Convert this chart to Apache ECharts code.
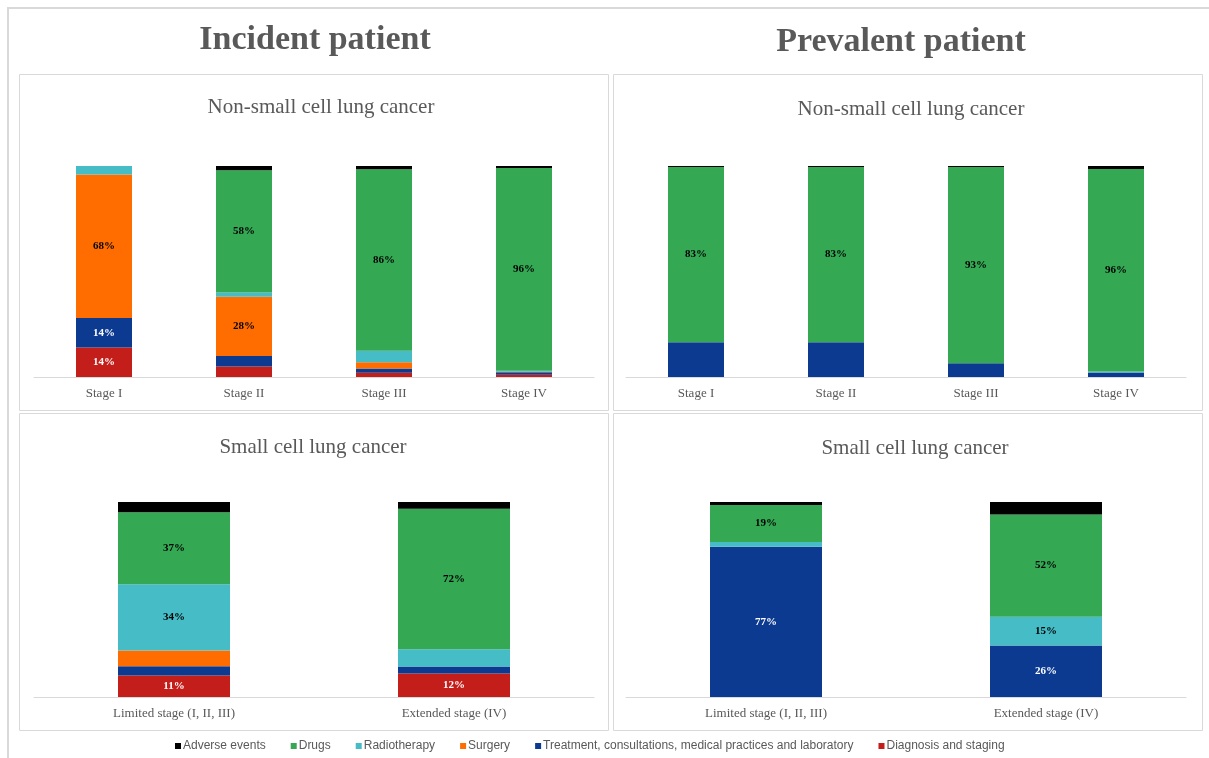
<!DOCTYPE html>
<html lang="en">
  <head>
    <meta charset="UTF-8" />
    <title>Incident vs prevalent patient - cost breakdown</title>
    <script src="https://cdn.jsdelivr.net/npm/echarts@6/dist/echarts.min.js"></script>
    <style>
      body {
        margin: 0;
        background: #fff;
      }
      #main {
        width: 1209px;
        height: 758px;
      }
    </style>
  </head>
  <body>
    <div id="main"></div>
    <script type="text/javascript">
      const chart = echarts.init(document.getElementById("main"))

      // categories
      const nsclcStages = ["Stage I", "Stage II", "Stage III", "Stage IV"]
      const sclcStages = ["Limited stage (I, II, III)", "Extended stage (IV)"]

      // series names, bottom of the stack first
      const seriesNames = [
        "Diagnosis and staging",
        "Treatment, consultations, medical practices and laboratory",
        "Surgery",
        "Radiotherapy",
        "Drugs",
        "Adverse events",
      ]
      const legendOrder = seriesNames.slice().reverse()
      const colors = ["#c41e1a", "#0c3a90", "#ff6d01", "#46bdc6", "#34a853", "#000000"]

      // incident patient, non-small cell (%)
      const incNsclcDiagnosis = [14, 5, 2, 1.1]
      const incNsclcTreatment = [14, 5, 2, 1.2]
      const incNsclcSurgery = [68, 28, 3, 0.2]
      const incNsclcRadio = [4, 2, 5.5, 0.5]
      const incNsclcDrugs = [0, 58, 86, 96]
      const incNsclcAdverse = [0, 2, 1.5, 1]

      // prevalent patient, non-small cell (%)
      const prevNsclcDiagnosis = [0, 0, 0, 0]
      const prevNsclcTreatment = [16.5, 16.5, 6.5, 2.1]
      const prevNsclcSurgery = [0, 0, 0, 0]
      const prevNsclcRadio = [0, 0, 0, 0.5]
      const prevNsclcDrugs = [83, 83, 93, 96]
      const prevNsclcAdverse = [0.5, 0.5, 0.5, 1.4]

      // incident patient, small cell (%)
      const incSclcDiagnosis = [11, 12]
      const incSclcTreatment = [4.8, 3.6]
      const incSclcSurgery = [8, 0]
      const incSclcRadio = [34, 8.9]
      const incSclcDrugs = [37, 72]
      const incSclcAdverse = [5.2, 3.5]

      // prevalent patient, small cell (%)
      const prevSclcDiagnosis = [0, 0]
      const prevSclcTreatment = [77, 26.4]
      const prevSclcSurgery = [0, 0]
      const prevSclcRadio = [2.5, 14.8]
      const prevSclcDrugs = [19, 52.4]
      const prevSclcAdverse = [1.5, 6.4]

      const panels = [
        {
          cats: nsclcStages,
          values: [incNsclcDiagnosis, incNsclcTreatment, incNsclcSurgery, incNsclcRadio, incNsclcDrugs, incNsclcAdverse],
          labelled: [0, 1, 2, 3, 4],
          grid: { left: 34, right: 615, top: 166, bottom: 381 },
        },
        {
          cats: nsclcStages,
          values: [prevNsclcDiagnosis, prevNsclcTreatment, prevNsclcSurgery, prevNsclcRadio, prevNsclcDrugs, prevNsclcAdverse],
          labelled: [4],
          grid: { left: 626, right: 23, top: 166, bottom: 381 },
        },
        {
          cats: sclcStages,
          values: [incSclcDiagnosis, incSclcTreatment, incSclcSurgery, incSclcRadio, incSclcDrugs, incSclcAdverse],
          labelled: [0, 1, 2, 3, 4],
          grid: { left: 34, right: 615, top: 502, bottom: 61 },
        },
        {
          cats: sclcStages,
          values: [prevSclcDiagnosis, prevSclcTreatment, prevSclcSurgery, prevSclcRadio, prevSclcDrugs, prevSclcAdverse],
          labelled: [0, 1, 2, 3, 4],
          grid: { left: 626, right: 23, top: 502, bottom: 61 },
        },
      ]

      const serif = "Liberation Serif"
      const grey = "#595959"

      const grids = []
      const xAxes = []
      const yAxes = []
      const series = []

      panels.forEach((p, pi) => {
        grids.push(p.grid)
        xAxes.push({
          type: "category",
          gridIndex: pi,
          data: p.cats,
          axisLine: { lineStyle: { color: "#d9d9d9" } },
          axisTick: { show: false },
          axisLabel: { color: grey, fontFamily: serif, fontSize: 13, margin: 10 },
        })
        yAxes.push({
          type: "value",
          gridIndex: pi,
          min: 0,
          max: 100,
          show: false,
        })
        p.values.forEach((vals, si) => {
          const labelOn = p.labelled.indexOf(si) >= 0
          series.push({
            type: "bar",
            name: seriesNames[si],
            xAxisIndex: pi,
            yAxisIndex: pi,
            stack: "panel" + pi,
            barWidth: "40%",
            data: vals,
            itemStyle: { color: colors[si] },
            label: {
              show: labelOn,
              position: "inside",
              fontFamily: serif,
              fontWeight: "bold",
              fontSize: 11,
              color: si < 2 ? "#fff" : "#000",
              formatter: params => (params.value >= 10 ? Math.round(params.value) + "%" : ""),
            },
          })
        })
      })

      const titleStyle = { fontFamily: serif, fontWeight: "bold", fontSize: 34, color: grey }
      const subStyle = { fontFamily: serif, fontWeight: "normal", fontSize: 21, color: grey }

      const option = {
        animation: false,
        title: [
          { text: "Incident patient", left: 310, top: 18, textAlign: "center", textStyle: titleStyle },
          { text: "Prevalent patient", left: 896, top: 20, textAlign: "center", textStyle: titleStyle },
          { text: "Non-small cell lung cancer", left: 316, top: 92, textAlign: "center", textStyle: subStyle },
          { text: "Non-small cell lung cancer", left: 906, top: 94, textAlign: "center", textStyle: subStyle },
          { text: "Small cell lung cancer", left: 308, top: 432, textAlign: "center", textStyle: subStyle },
          { text: "Small cell lung cancer", left: 910, top: 433, textAlign: "center", textStyle: subStyle },
        ],
        legend: {
          data: legendOrder,
          bottom: 1,
          left: 170,
          itemWidth: 6,
          itemHeight: 6,
          itemGap: 25,
          icon: "rect",
          textStyle: { fontFamily: "Liberation Sans", fontSize: 12, color: grey, padding: [0, 0, 0, -3] },
        },
        graphic: [
          { type: "rect", shape: { x: 8, y: 8, width: 1240, height: 800 }, style: { fill: "none", stroke: "#d9d9d9", lineWidth: 2 }, silent: true },
          { type: "rect", shape: { x: 19.5, y: 74.5, width: 589, height: 336 }, style: { fill: "none", stroke: "#d9d9d9", lineWidth: 1 }, silent: true },
          { type: "rect", shape: { x: 613.5, y: 74.5, width: 589, height: 336 }, style: { fill: "none", stroke: "#d9d9d9", lineWidth: 1 }, silent: true },
          { type: "rect", shape: { x: 19.5, y: 413.5, width: 589, height: 317 }, style: { fill: "none", stroke: "#d9d9d9", lineWidth: 1 }, silent: true },
          { type: "rect", shape: { x: 613.5, y: 413.5, width: 589, height: 317 }, style: { fill: "none", stroke: "#d9d9d9", lineWidth: 1 }, silent: true },
        ],
        grid: grids,
        xAxis: xAxes,
        yAxis: yAxes,
        series: series,
      }

      chart.setOption(option)
    </script>
  </body>
</html>
